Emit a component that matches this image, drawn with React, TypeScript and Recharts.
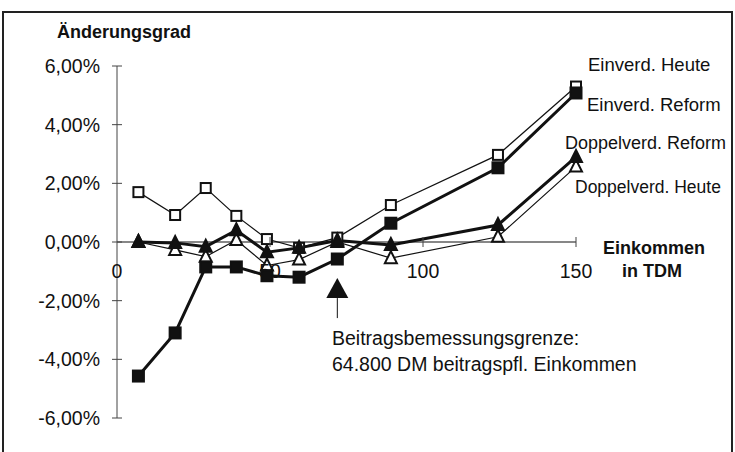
import React from 'react';
import { LineChart, Line, XAxis, YAxis, ReferenceLine, ReferenceDot } from 'recharts';

// income in TDM
const incomes = [7, 19, 29, 39, 49, 59.5, 72, 89.5, 124.5, 150];
// Änderungsgrad in %
const einverdHeute = [1.7, 0.92, 1.84, 0.89, 0.1, -0.2, 0.15, 1.26, 2.97, 5.3];
const einverdReform = [-4.57, -3.1, -0.85, -0.85, -1.15, -1.2, -0.58, 0.64, 2.53, 5.08];
const doppelReform = [0, -0.03, -0.16, 0.4, -0.35, -0.2, 0.05, -0.1, 0.58, 2.9];
const doppelHeute = [0, -0.27, -0.5, 0.07, -0.8, -0.6, 0, -0.55, 0.18, 2.57];

const yTicks = [-6, -4, -2, 0, 2, 4, 6];
const xTicks = [0, 50, 100, 150];
const grenzeX = 72;
const grenzeY = -1.23;

const data = incomes.map((income, i) => ({
  income,
  einverdHeute: einverdHeute[i],
  einverdReform: einverdReform[i],
  doppelReform: doppelReform[i],
  doppelHeute: doppelHeute[i],
}));

const FONT = '"Liberation Sans", Arial, sans-serif';
const INK = '#111';
const PLOT_TOP = 66;
const PLOT_H = 352;
const TXT = 19.5;

const fmtPct = (v: number) => `${v.toFixed(2).replace('.', ',')}%`;

const YTick = (props: any) => {
  const { x, y, payload } = props;
  return (
    <g>
      <line x1={x - 5} x2={x + 5} y1={y} y2={y} stroke="#444" strokeWidth={1} />
      <text x={x - 17} y={y} dy={7} textAnchor="end" fontSize={TXT} fontFamily={FONT} fill={INK}>
        {fmtPct(payload.value)}
      </text>
    </g>
  );
};

const XTick = (props: any) => {
  const { x, y, payload } = props;
  const zeroY = y - PLOT_H / 2;
  return (
    <g>
      {payload.value !== 0 && (
        <line x1={x} x2={x} y1={zeroY - 5} y2={zeroY + 5} stroke="#444" strokeWidth={1} />
      )}
      <text x={x} y={zeroY + 36} textAnchor="middle" fontSize={TXT} fontFamily={FONT} fill={INK}>
        {payload.value}
      </text>
    </g>
  );
};

const squareDot = (filled: boolean) => (props: any) => {
  const { cx, cy, index } = props;
  const s = filled ? 11 : 10;
  return (
    <rect
      key={`sq-${filled}-${index}`}
      x={cx - s / 2}
      y={cy - s / 2}
      width={s}
      height={s}
      fill={filled ? INK : '#fff'}
      stroke={INK}
      strokeWidth={2}
    />
  );
};

const triDot = (filled: boolean) => (props: any) => {
  const { cx, cy, index } = props;
  const w = 6;
  return (
    <path
      key={`tr-${filled}-${index}`}
      d={`M${cx},${cy - 7} L${cx + w},${cy + 5} L${cx - w},${cy + 5} Z`}
      fill={filled ? INK : '#fff'}
      stroke={INK}
      strokeWidth={2}
      strokeLinejoin="miter"
    />
  );
};

const GrenzeMarker = (props: any) => {
  const { cx, cy } = props;
  return (
    <g>
      <path d={`M${cx},${cy} L${cx + 11},${cy + 20} L${cx - 11},${cy + 20} Z`} fill={INK} />
      <line x1={cx} x2={cx} y1={cy + 20} y2={cy + 40} stroke={INK} strokeWidth={1} />
    </g>
  );
};

const label = (text: string, left: number, top: number, size: number, bold = false) => (
  <div
    style={{
      position: 'absolute',
      left,
      top,
      fontFamily: FONT,
      fontSize: size,
      fontWeight: bold ? 700 : 400,
      color: INK,
      whiteSpace: 'nowrap',
      lineHeight: '20px',
    }}
  >
    {text}
  </div>
);

export default function App() {
  return (
    <div
      style={{
        position: 'absolute',
        left: 0,
        top: 0,
        width: 735,
        height: 452,
        overflow: 'hidden',
        background: '#fff',
      }}
    >
      <div
        style={{
          position: 'absolute',
          left: 2,
          top: 11,
          width: 731,
          height: 480,
          border: '2px solid #222',
          boxSizing: 'border-box',
        }}
      />
      <LineChart
        width={735}
        height={452}
        data={data}
        margin={{ top: PLOT_TOP, right: 159, bottom: 4, left: 0 }}
        style={{ position: 'absolute', left: 0, top: 0 }}
      >
        <XAxis
          dataKey="income"
          type="number"
          domain={[0, 150]}
          ticks={xTicks}
          axisLine={false}
          tickLine={false}
          tickSize={0}
          tickMargin={0}
          height={30}
          tick={<XTick />}
          interval={0}
        />
        <YAxis
          type="number"
          domain={[-6, 6]}
          ticks={yTicks}
          width={117}
          axisLine={{ stroke: '#444', strokeWidth: 1 }}
          tickLine={false}
          tickSize={0}
          tickMargin={0}
          tick={<YTick />}
          interval={0}
        />
        <ReferenceLine y={0} stroke={INK} strokeWidth={1.2} />
        <Line
          dataKey="einverdHeute"
          type="linear"
          stroke={INK}
          strokeWidth={1.2}
          dot={squareDot(false)}
          isAnimationActive={false}
        />
        <Line
          dataKey="doppelHeute"
          type="linear"
          stroke={INK}
          strokeWidth={1.2}
          dot={triDot(false)}
          isAnimationActive={false}
        />
        <Line
          dataKey="einverdReform"
          type="linear"
          stroke={INK}
          strokeWidth={3}
          dot={squareDot(true)}
          isAnimationActive={false}
        />
        <Line
          dataKey="doppelReform"
          type="linear"
          stroke={INK}
          strokeWidth={3}
          dot={triDot(true)}
          isAnimationActive={false}
        />
        <ReferenceDot x={grenzeX} y={grenzeY} shape={<GrenzeMarker />} />
      </LineChart>
      {label('Änderungsgrad', 57, 22, 18, true)}
      {label('Einverd. Heute', 588, 55, 18.5)}
      {label('Einverd. Reform', 587, 95, 18.5)}
      {label('Doppelverd. Reform', 565, 133, 18)}
      {label('Doppelverd. Heute', 575, 177, 17.5)}
      {label('Einkommen', 603, 238, 18, true)}
      {label('in TDM', 622, 261, 18, true)}
      {label('Beitragsbemessungsgrenze:', 332, 328, TXT)}
      {label('64.800 DM beitragspfl. Einkommen', 332, 354, TXT)}
    </div>
  );
}
